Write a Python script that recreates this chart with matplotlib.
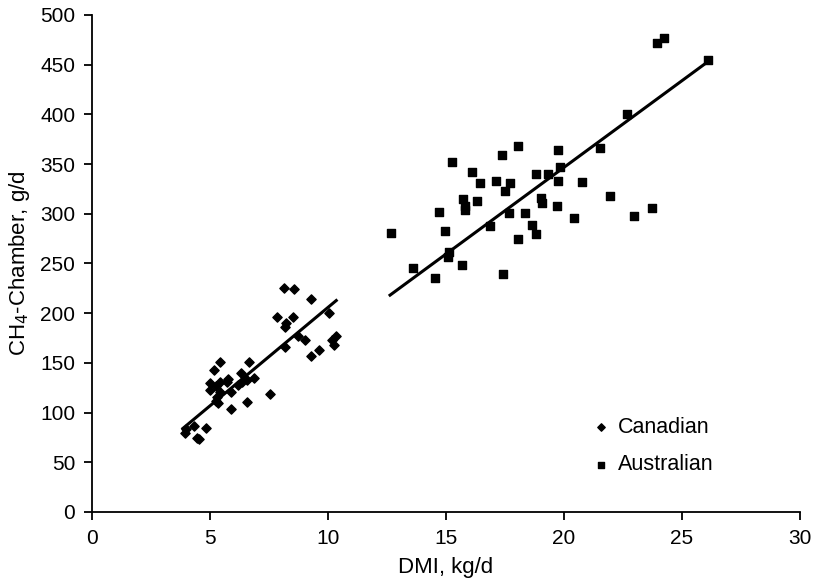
import numpy as np
import matplotlib
matplotlib.use('Agg')
import matplotlib.pyplot as plt

plt.rcParams['font.family'] = ['Liberation Sans', 'DejaVu Sans']

# Canadian cattle: DMI (kg/d) vs CH4 (g/d)
can_dmi = [8.15, 8.57, 9.27, 10.03, 7.85, 8.52, 8.23, 8.18, 8.74, 9.01,
           10.34, 10.17, 10.27, 8.18, 9.60, 9.27, 5.42, 6.64, 5.18, 6.31,
           6.86, 6.58, 6.34, 5.78, 5.00, 5.42, 5.71, 5.25, 6.20, 5.00,
           5.89, 5.42, 5.28, 7.54, 5.25, 5.35, 5.89, 6.58, 4.83, 4.32,
           3.97, 3.94, 4.44, 4.55]
can_ch4 = [225.7, 224.3, 214.3, 199.9, 196.5, 196.5, 189.8, 186.4, 177.0, 173.0,
           177.4, 173.0, 168.0, 166.3, 163.0, 157.2, 150.6, 150.6, 142.9, 139.5,
           135.2, 132.5, 131.1, 133.5, 129.5, 131.1, 131.1, 127.1, 127.8, 122.7,
           121.0, 121.0, 116.0, 118.7, 112.0, 109.4, 103.6, 110.4, 84.5, 86.5,
           83.2, 79.8, 74.7, 73.1]

# Australian cattle
aus_dmi = [12.67, 15.24, 18.04, 17.39, 19.76, 21.51, 16.11, 17.12, 16.43, 17.71,
           17.49, 18.83, 19.31, 19.84, 19.76, 20.75, 21.94, 23.72, 22.95, 20.44,
           15.74, 15.79, 15.79, 16.33, 14.70, 19.04, 19.05, 19.69, 17.65, 18.35,
           16.86, 18.63, 18.83, 18.04, 14.97, 15.13, 15.10, 15.68, 13.61, 14.53,
           17.43, 23.93, 24.25, 22.66, 26.10]
aus_ch4 = [281.0, 352.4, 368.0, 358.9, 363.9, 366.5, 342.4, 333.3, 331.0, 331.0,
           323.0, 340.0, 340.0, 347.4, 333.3, 332.3, 318.0, 305.5, 297.8, 295.5,
           314.6, 307.8, 303.8, 313.2, 301.8, 315.6, 310.6, 308.2, 300.6, 300.6,
           287.7, 289.0, 280.0, 274.6, 282.7, 261.3, 256.8, 248.5, 245.2, 235.1,
           239.0, 472.0, 477.0, 400.7, 454.7]

# trend lines as drawn in the figure: (slope, intercept, x start, x end)
can_fit = (19.8, 7.8, 3.85, 10.35)
aus_fit = (17.44, -2.1, 12.63, 26.15)

fig = plt.figure(figsize=(8.19, 5.85), dpi=100)
ax = fig.add_axes([0.1123, 0.1248, 0.8645, 0.8496])

ax.scatter(can_dmi, can_ch4, marker='D', s=22, color='black', label='Canadian')
ax.scatter(aus_dmi, aus_ch4, marker='s', s=30, color='black', label='Australian')

for m, b, x0, x1 in [can_fit, aus_fit]:
    xl = np.array([x0, x1])
    ax.plot(xl, m * xl + b, color='black', lw=2.2)

ax.set_xlim(0, 30)
ax.set_ylim(0, 500)
ax.set_xticks(np.arange(0, 31, 5))
ax.set_yticks(np.arange(0, 501, 50))
ax.spines['top'].set_visible(False)
ax.spines['right'].set_visible(False)
for s in ['left', 'bottom']:
    ax.spines[s].set_linewidth(1.3)
ax.tick_params(labelsize=15, direction='out', length=6, width=1.3, pad=6)
ax.set_xlabel('DMI, kg/d', fontsize=16, labelpad=7)
ax.set_ylabel('CH$_4$-Chamber, g/d', fontsize=16, labelpad=6)
ax.legend(loc='lower right', bbox_to_anchor=(0.905, 0.035), frameon=False,
          fontsize=15.5, handlelength=1.0, handletextpad=0.3,
          labelspacing=0.75, markerscale=0.8)

fig.savefig('out.png', dpi=100)
